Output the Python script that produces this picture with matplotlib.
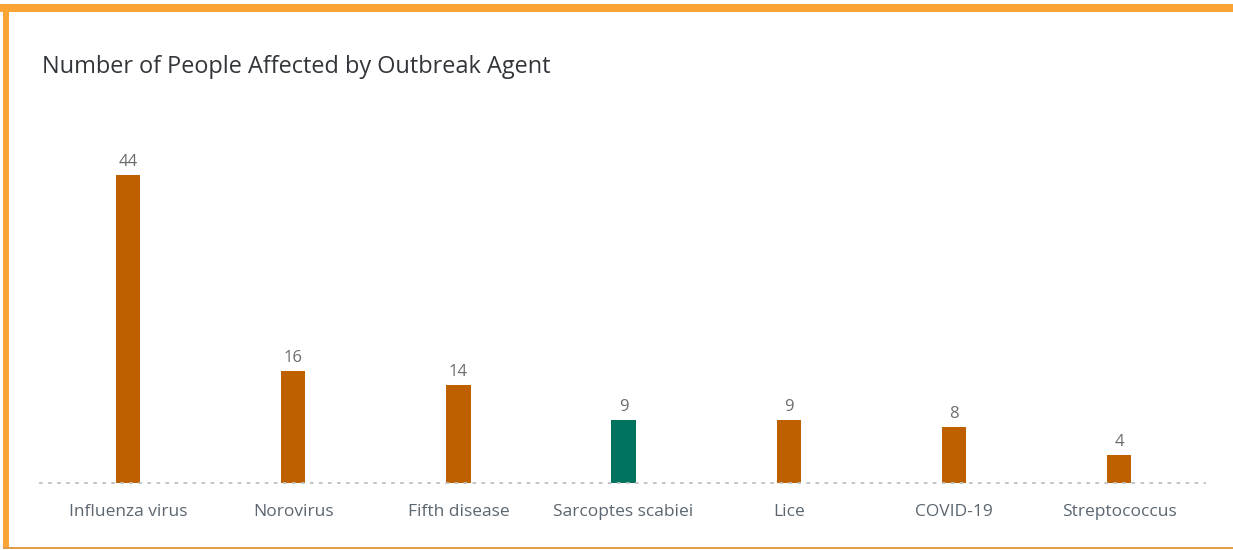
import matplotlib
matplotlib.use("Agg")
import matplotlib.pyplot as plt
from matplotlib.patches import Rectangle

categories = ["Influenza virus", "Norovirus", "Fifth disease", "Sarcoptes scabiei",
              "Lice", "COVID-19", "Streptococcus"]
values = [44, 16, 14, 9, 9, 8, 4]
highlight = "Sarcoptes scabiei"
title = "Number of People Affected by Outbreak Agent"

ORANGE = "#BF6000"
TEAL = "#00735F"
plt.rcParams['font.family'] = ['Open Sans', 'DejaVu Sans']

W, H = 1233, 550
fig = plt.figure(figsize=(W / 100, H / 100), dpi=100)
fig.patch.set_facecolor("white")

# frame borders
fig.add_artist(Rectangle((0, (H - 12) / H), 1, 8 / H, transform=fig.transFigure,
                         facecolor="#F9A433", edgecolor="none"))
fig.add_artist(Rectangle((3 / W, 1 / H), 6 / W, (H - 12) / H, transform=fig.transFigure,
                         facecolor="#F9A433", edgecolor="none"))
fig.add_artist(Rectangle((3 / W, 1 / H), 1, 2 / H, transform=fig.transFigure,
                         facecolor="#E39D4A", edgecolor="none"))

ax = fig.add_axes([40 / W, (H - 483) / H, (1205 - 40) / W, (483 - 133) / H])
x = list(range(len(categories)))
colors = [TEAL if c == highlight else ORANGE for c in categories]
bars = ax.bar(x, values, width=0.148, color=colors, zorder=2)
for xi, v in zip(x, values):
    ax.annotate(str(v), (xi, v), xytext=(0, 3.5), textcoords="offset points",
                ha="center", va="bottom", fontsize=12, color="#6a6d70")

ax.set_xlim(-0.533, 6.52)
ax.set_ylim(0, 50)
ax.set_xticks(x)
ax.set_xticklabels(categories, fontsize=12.5, color="#5b6670")
ax.tick_params(axis="x", length=0, pad=15)
ax.set_yticks([])
for s in ["top", "right", "left"]:
    ax.spines[s].set_visible(False)
ax.spines["bottom"].set_linestyle((0, (1, 4)))
ax.spines["bottom"].set_color("#bcc0c4")
ax.spines["bottom"].set_linewidth(1.3)
ax.set_facecolor("none")

fig.text(42 / W, (H - 67) / H, title, fontsize=16.9, color="#32363a",
         ha="left", va="center")

fig.savefig("out.png", dpi=100, facecolor="white")
